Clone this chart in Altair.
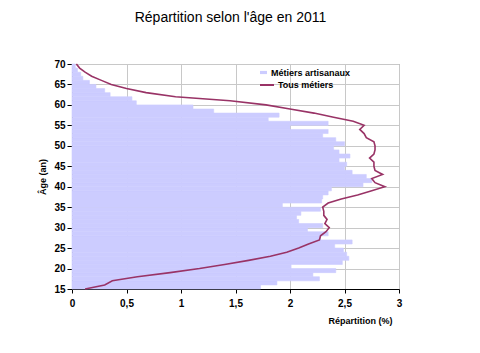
import altair as alt
import pandas as pd

ages = list(range(15, 70))
artisanaux = [1.73, 1.88, 2.27, 2.21, 2.42, 2.01, 2.48, 2.54, 2.52, 2.49,
              2.41, 2.57, 2.28, 2.35, 2.16, 2.30, 2.08, 2.06, 2.10, 2.28,
              1.93, 2.29, 2.30, 2.35, 2.38, 2.67, 2.75, 2.70, 2.57, 2.50,
              2.52, 2.45, 2.55, 2.45, 2.40, 2.50, 2.42, 2.30, 2.35, 2.00,
              2.35, 1.80, 1.90, 1.30, 1.11, 0.59, 0.55, 0.35, 0.30, 0.22,
              0.16, 0.10, 0.08, 0.05, 0.03]

line_ages = list(range(15, 71))
tous = [0.12, 0.30, 0.37, 0.60, 0.90, 1.17, 1.40, 1.62, 1.82, 1.97,
        2.08, 2.17, 2.27, 2.28, 2.33, 2.36, 2.32, 2.34, 2.31, 2.31,
        2.30, 2.35, 2.47, 2.62, 2.75, 2.87, 2.78, 2.75, 2.85, 2.78,
        2.77, 2.77, 2.73, 2.77, 2.78, 2.78, 2.77, 2.70, 2.68, 2.64,
        2.68, 2.58, 2.40, 2.22, 2.00, 1.78, 1.45, 0.95, 0.68, 0.50,
        0.36, 0.27, 0.18, 0.12, 0.07, 0.04]

x_ticks = [0, 0.5, 1, 1.5, 2, 2.5, 3]
y_ticks = [15, 20, 25, 30, 35, 40, 45, 50, 55, 60, 65, 70]

bars_df = pd.DataFrame({"age": ages, "age2": [a + 1 for a in ages],
                        "val": artisanaux, "serie": "Métiers artisanaux"})
line_df = pd.DataFrame({"age": line_ages, "val": tous, "serie": "Tous métiers"})

FONT = "Liberation Sans"

x_scale = alt.Scale(domain=[0, 3], nice=False, zero=True)
y_scale = alt.Scale(domain=[15, 70], nice=False, zero=False)

x_axis = alt.Axis(values=x_ticks, title="Répartition (%)",
                  labelExpr="replace(format(datum.value, '~g'), '.', ',')",
                  labelOverlap=False, labelFlush=False,
                  grid=True, gridColor="#c8c8c8", gridWidth=1,
                  domainColor="black", tickColor="black", tickSize=4,
                  labelFont=FONT, labelFontSize=10, labelFontWeight="bold",
                  labelColor="black", labelPadding=5,
                  titleFont=FONT, titleFontSize=9, titleFontWeight="bold",
                  titleColor="black", titleX=288, titleY=31,
                  titleAlign="center", titleBaseline="middle")
y_axis = alt.Axis(values=y_ticks, title="Âge (an)",
                  labelOverlap=False, labelFlush=False,
                  grid=True, gridColor="#c8c8c8", gridWidth=1,
                  domainColor="black", tickColor="black", tickSize=5,
                  labelFont=FONT, labelFontSize=10, labelFontWeight="bold",
                  labelColor="black", labelPadding=2,
                  titleFont=FONT, titleFontSize=9, titleFontWeight="bold",
                  titleColor="black", titlePadding=6)

bars = alt.Chart(bars_df).mark_rect(color="#ccccff", stroke="#ccccff", strokeWidth=0.6).encode(
    x=alt.X("val:Q", scale=x_scale, axis=x_axis),
    x2=alt.datum(0),
    y=alt.Y("age:Q", scale=y_scale, axis=y_axis),
    y2="age2:Q",
    fill=alt.Fill("serie:N",
                  scale=alt.Scale(domain=["Métiers artisanaux"], range=["#ccccff"]),
                  legend=alt.Legend(title=None, orient="none", legendX=187, legendY=4,
                                    symbolType="M-1,-0.45H1V0.45H-1Z", symbolSize=49,
                                    symbolStrokeWidth=0,
                                    labelFont=FONT, labelFontSize=9,
                                    labelFontWeight="bold", labelColor="black",
                                    labelOffset=3, padding=0)),
)

line = alt.Chart(line_df).mark_line(strokeWidth=1.6).encode(
    x=alt.X("val:Q", scale=x_scale, axis=x_axis),
    y=alt.Y("age:Q", scale=y_scale, axis=y_axis),
    order="age:Q",
    stroke=alt.Stroke("serie:N",
                      scale=alt.Scale(domain=["Tous métiers"], range=["#993366"]),
                      legend=alt.Legend(title=None, orient="none", legendX=187, legendY=13,
                                        symbolType="stroke", symbolSize=196,
                                        symbolStrokeWidth=2,
                                        labelFont=FONT, labelFontSize=9,
                                        labelFontWeight="bold", labelColor="black",
                                        labelOffset=3, padding=0)),
)

chart = alt.layer(bars, line).resolve_scale(fill="independent", stroke="independent").properties(
    width=327, height=225,
    autosize=alt.AutoSizeParams(type="none"),
    padding={"left": 72, "top": 64, "right": 81, "bottom": 64},
    background="white",
    title=alt.TitleParams("Répartition selon l'âge en 2011", font=FONT, fontSize=14,
                          fontWeight="normal", color="black", anchor="middle",
                          offset=34, dx=-5),
).configure_view(stroke="#909090", strokeWidth=1)

chart.save("out.html", embed_options={"renderer": "svg", "actions": False})
